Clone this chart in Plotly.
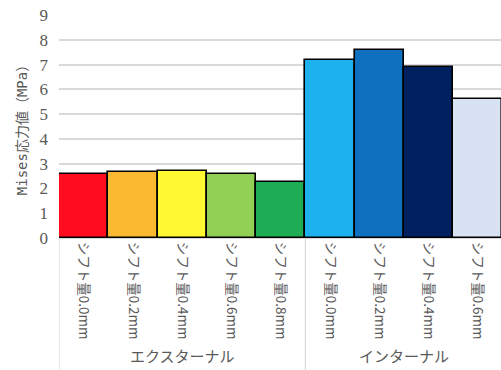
import plotly.graph_objects as go

categories = ["シフト量0.0mm", "シフト量0.2mm", "シフト量0.4mm", "シフト量0.6mm", "シフト量0.8mm",
              "シフト量0.0mm", "シフト量0.2mm", "シフト量0.4mm", "シフト量0.6mm"]
values = [2.59, 2.65, 2.72, 2.57, 2.26, 7.2, 7.6, 6.9, 5.62]
colors = ["#FF0D1E", "#FBB831", "#FFF933", "#92CF55", "#1EAD55",
          "#1DB1EE", "#0F70C0", "#002060", "#D9E2F3"]
groups = ["エクスターナル", "インターナル"]
group_sizes = [5, 4]
y_ticks = list(range(0, 10))

x = list(range(len(values)))

fig = go.Figure()
fig.add_trace(go.Bar(
    x=x, y=values, width=1,
    marker=dict(color=colors, line=dict(color="#000000", width=1.6)),
    showlegend=False,
))

gray = "#595959"
start = 0
divs = [-0.5]
for g, n in zip(groups, group_sizes):
    center = start + (n - 1) / 2
    fig.add_annotation(x=center, y=-0.525, xref="x", yref="paper", text=g,
                       showarrow=False, yanchor="middle",
                       font=dict(family="Noto Sans CJK JP", size=15, color=gray))
    start += n
    divs.append(start - 0.5)

for d in divs[:-1]:
    fig.add_shape(type="line", x0=d, x1=d, xref="x", yref="paper", y0=0, y1=-0.6,
                  line=dict(color="#D9D9D9", width=1.2))

fig.update_layout(
    width=501, height=370,
    margin=dict(l=59, r=0, t=15, b=132),
    plot_bgcolor="white", paper_bgcolor="white",
    bargap=0,
    xaxis=dict(range=[-0.5, 8.47], tickmode="array", tickvals=x, ticktext=categories,
               tickangle=90, ticks="", showgrid=False, showline=True,
               linecolor="#D9D9D9", linewidth=1.2, ticklabelstandoff=0,
               tickfont=dict(family="Noto Sans CJK JP", size=13.5, color=gray)),
    yaxis=dict(range=[0, 9], tickmode="array", tickvals=y_ticks,
               showgrid=True, gridcolor="#D9D9D9", gridwidth=1.5, zeroline=False,
               ticks="", ticklabelstandoff=10,
               tickfont=dict(family="Liberation Serif", size=17, color=gray),
               title=dict(text="Mises応力値（MPa）", standoff=8,
                          font=dict(family="DejaVu Sans Mono, Noto Sans CJK JP", size=14, color=gray))),
)

fig.write_html("out.html")
